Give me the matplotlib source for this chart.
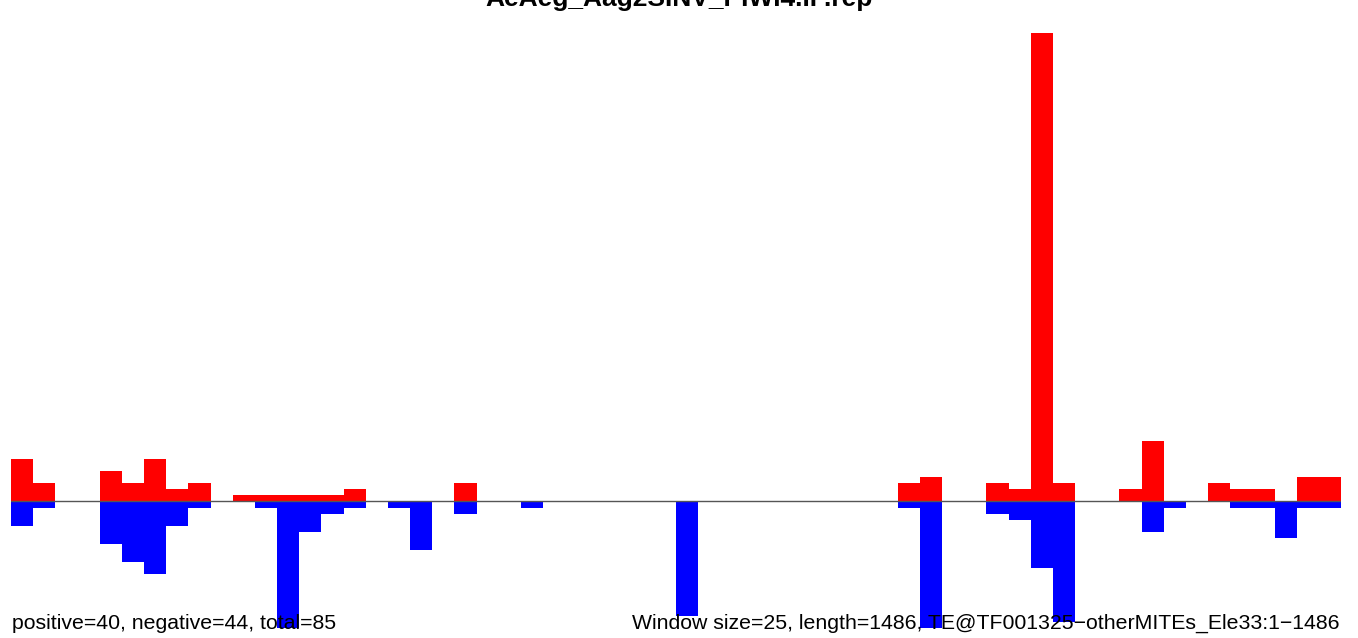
import matplotlib
matplotlib.use('Agg')
import matplotlib.pyplot as plt
import numpy as np

plt.rcParams['font.family'] = ['Liberation Sans', 'DejaVu Sans']

title = 'AeAeg_Aag2SINV_PIWI4.IP.rep'
left_note = 'positive=40, negative=44, total=85'
right_note = 'Window size=25, length=1486, TE@TF001325\u2212otherMITEs_Ele33:1\u22121486'

# counts per 25 nt window (60 windows)
positive = [7, 3, 0, 0, 5, 3, 7, 2, 3, 0,
            1, 1, 1, 1, 1, 2, 0, 0, 0, 0,
            3, 0, 0, 0, 0, 0, 0, 0, 0, 0,
            0, 0, 0, 0, 0, 0, 0, 0, 0, 0,
            3, 4, 0, 0, 3, 2, 78, 3, 0, 0,
            2, 10, 0, 0, 3, 2, 2, 0, 4, 4]
negative = [4, 1, 0, 0, 7, 10, 12, 4, 1, 0,
            0, 1, 21, 5, 2, 1, 0, 1, 8, 0,
            2, 0, 0, 1, 0, 0, 0, 0, 0, 0,
            19, 0, 0, 0, 0, 0, 0, 0, 0, 0,
            1, 21, 0, 0, 2, 3, 11, 20, 0, 0,
            0, 5, 1, 0, 0, 1, 1, 6, 1, 1]

W, H = 1358, 638
fig = plt.figure(figsize=(W / 100, H / 100), dpi=100)
ax = fig.add_axes([11 / W, 0, 1330 / W, 1])

x = np.arange(len(positive))
ax.bar(x, positive, width=1.0, align='edge', color='#ff0000', linewidth=0)
ax.bar(x, -np.array(negative) - 0.15, width=1.0, align='edge', color='#0000ff', linewidth=0)
ax.axhline(0, color='#555555', lw=1.0, zorder=3)

# 6 px per count, baseline at y=501 px
ax.set_xlim(0, len(positive))
ax.set_ylim(-(H - 501) / 6, 501 / 6)
ax.axis('off')

# the title sits mostly above the top edge, as in the original
fig.text(679 / W, 1 - 6 / H, title, ha='center', va='baseline',
         fontsize=19, fontweight='bold')
fig.text(12 / W, 1 - 629 / H, left_note, ha='left', va='baseline', fontsize=15.3)
fig.text(1340 / W, 1 - 629 / H, right_note, ha='right', va='baseline', fontsize=15.3)

fig.savefig('out.png', dpi=100)
